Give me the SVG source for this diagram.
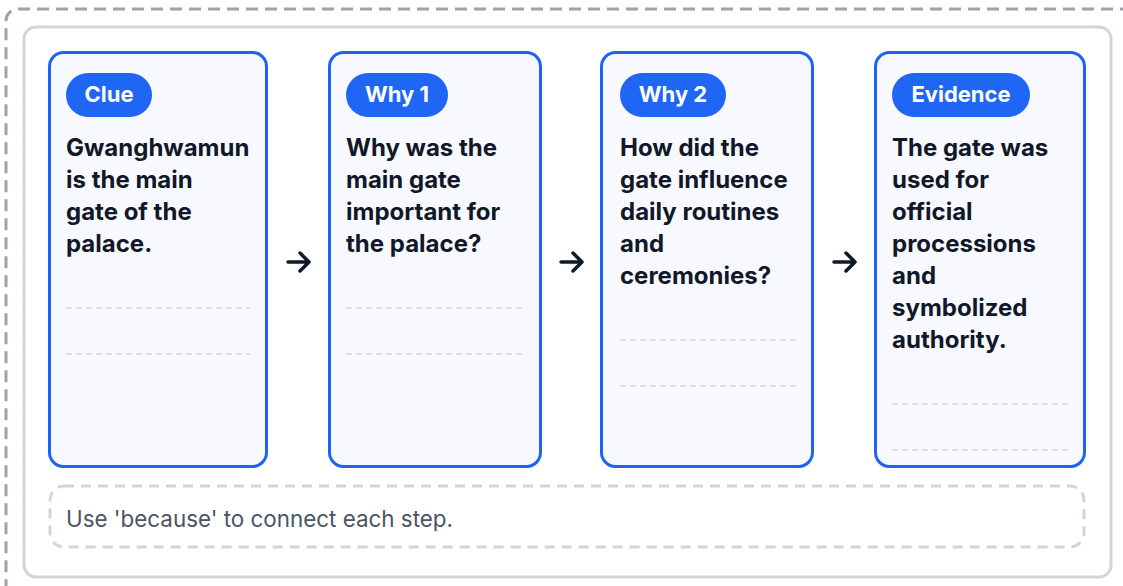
<svg xmlns="http://www.w3.org/2000/svg" width="1123" height="586" viewBox="0 0 1123 586">
<style>
.card{fill:#f7f9ff;stroke:#1f63f5;stroke-width:3}
.pill{fill:#1f66f5}
.pt{font-family:Inter,"Liberation Sans",sans-serif;font-weight:700;font-size:22px;fill:#fff;text-anchor:middle}
.bt{font-family:Inter,"Liberation Sans",sans-serif;font-weight:700;font-size:24px;fill:#111827}
.dl{stroke:#d5d8de;stroke-width:1.5;stroke-dasharray:6 4;fill:none}
.arr{fill:none;stroke:#111827;stroke-width:3.5;stroke-linecap:round;stroke-linejoin:round}
</style>
<rect x="0" y="0" width="1123" height="586" fill="#fff"/>
<rect x="6" y="9" width="1130" height="600" rx="12" fill="none" stroke="#9ca3af" stroke-width="3" stroke-dasharray="12 7"/>
<rect x="24" y="27" width="1087" height="550" rx="12" fill="#fff" stroke="#d1d5db" stroke-width="3"/>
<g id="clue">
<rect class="card" x="49.5" y="52.5" width="217" height="414" rx="14"/>
<rect class="pill" x="66" y="73" width="86" height="44" rx="22"/>
<text class="pt" x="109" y="101.5">Clue</text>
<text class="bt"><tspan x="66" y="156">Gwanghwamun</tspan><tspan x="66" y="188">is the main</tspan><tspan x="66" y="220">gate of the</tspan><tspan x="66" y="252">palace.</tspan></text>
<line class="dl" x1="66" y1="308" x2="250" y2="308"/>
<line class="dl" x1="66" y1="354" x2="250" y2="354"/>
</g>
<g id="why1">
<rect class="card" x="329.5" y="52.5" width="211" height="414" rx="14"/>
<rect class="pill" x="346" y="73" width="102" height="44" rx="22"/>
<text class="pt" x="397" y="101.5">Why 1</text>
<text class="bt"><tspan x="346" y="156">Why was the</tspan><tspan x="346" y="188">main gate</tspan><tspan x="346" y="220">important for</tspan><tspan x="346" y="252">the palace?</tspan></text>
<line class="dl" x1="346" y1="308" x2="524" y2="308"/>
<line class="dl" x1="346" y1="354" x2="524" y2="354"/>
</g>
<g id="why2">
<rect class="card" x="601.5" y="52.5" width="211" height="414" rx="14"/>
<rect class="pill" x="620" y="73" width="106" height="44" rx="22"/>
<text class="pt" x="673" y="101.5">Why 2</text>
<text class="bt"><tspan x="620" y="156">How did the</tspan><tspan x="620" y="188">gate influence</tspan><tspan x="620" y="220">daily routines</tspan><tspan x="620" y="252">and</tspan><tspan x="620" y="284">ceremonies?</tspan></text>
<line class="dl" x1="620" y1="340" x2="796" y2="340"/>
<line class="dl" x1="620" y1="386" x2="796" y2="386"/>
</g>
<g id="evidence">
<rect class="card" x="875.5" y="52.5" width="209" height="414" rx="14"/>
<rect class="pill" x="892" y="73" width="138" height="44" rx="22"/>
<text class="pt" x="961" y="101.5">Evidence</text>
<text class="bt"><tspan x="892" y="156">The gate was</tspan><tspan x="892" y="188">used for</tspan><tspan x="892" y="220">official</tspan><tspan x="892" y="252">processions</tspan><tspan x="892" y="284">and</tspan><tspan x="892" y="316">symbolized</tspan><tspan x="892" y="348">authority.</tspan></text>
<line class="dl" x1="892" y1="404" x2="1068" y2="404"/>
<line class="dl" x1="892" y1="450" x2="1068" y2="450"/>
</g>
<g id="connectors">
<path class="arr" d="M288 262H309M300 253L309 262L300 271"/>
<path class="arr" d="M561 262H582M573 253L582 262L573 271"/>
<path class="arr" d="M834 262H855M846 253L855 262L846 271"/>
</g>
<g id="note">
<rect x="50" y="486" width="1034" height="61" rx="14" fill="none" stroke="#d1d5db" stroke-width="3" stroke-dasharray="10 7"/>
<text x="66" y="527" font-family="Inter,'Liberation Sans',sans-serif" font-size="22.4" fill="#4b5563">Use 'because' to connect each step.</text>
</g>
</svg>
